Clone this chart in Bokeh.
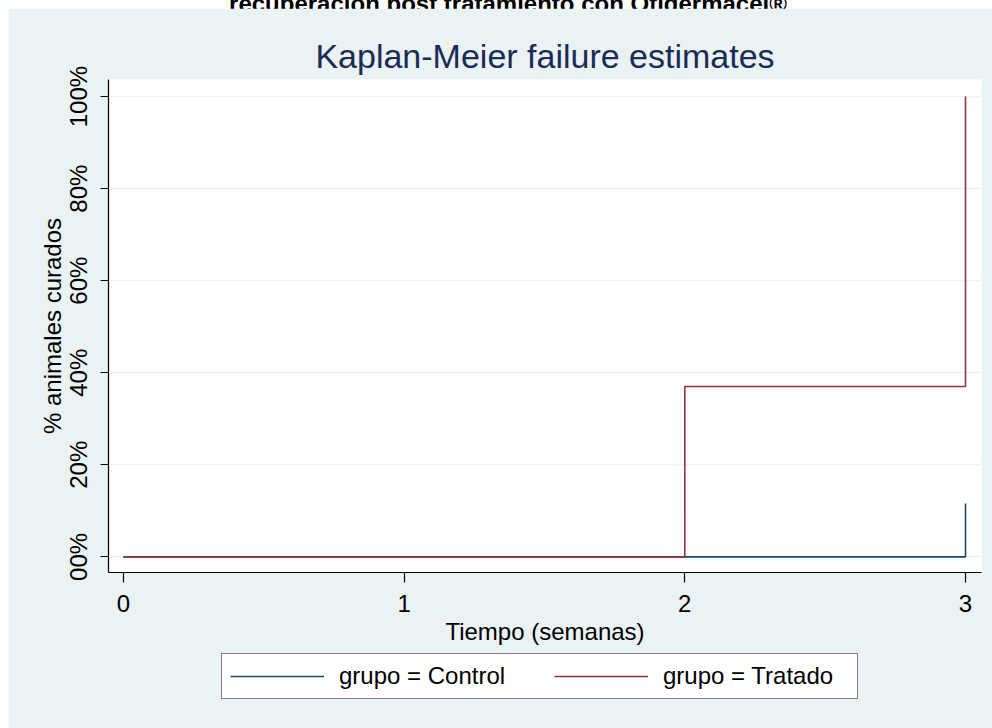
from bokeh.plotting import figure
from bokeh.models import FixedTicker, Legend, LegendItem, Div, Range1d
from bokeh.layouts import column
from bokeh.embed import file_html
from bokeh.resources import INLINE

# ---- data ----
heading = "recuperación post tratamiento con Otidermacel®"
chart_title = "Kaplan-Meier failure estimates"
x_title = "Tiempo (semanas)"
y_title = "% animales curados"
x_ticks = [0, 1, 2, 3]
y_ticks = [0, 20, 40, 60, 80, 100]
y_tick_labels = ["00%", "20%", "40%", "60%", "80%", "100%"]
groups = ["grupo = Control", "grupo = Tratado"]
control_time = [0, 3]
control_fail = [0, 11.6]
tratado_time = [0, 2, 3]
tratado_fail = [0, 37, 100]

FONT = "Liberation Sans"
BG = "#EAF2F3"
NAVY = "#1A476F"
MAROON = "#90353B"

p = figure(
    output_backend="svg", toolbar_location=None,
    frame_width=873, frame_height=493,
    min_border_left=100, min_border_right=11, min_border_top=71, min_border_bottom=76,
    x_range=Range1d(-0.053, 3.057), y_range=Range1d(-3.4, 103.7),
    background_fill_color="white", border_fill_color=BG,
    title=chart_title, margin=(0, 0, 0, 8),
)
p.outline_line_color = None

p.title.align = "center"
p.title.text_font = FONT
p.title.text_font_size = "34px"
p.title.text_font_style = "normal"
p.title.text_color = "#1c2b55"
p.title.standoff = 9

# grid
p.xgrid.visible = False
p.ygrid.grid_line_color = BG
p.ygrid.grid_line_width = 1.5
p.ygrid.ticker = FixedTicker(ticks=y_ticks)

# axes
for ax in (p.xaxis[0], p.yaxis[0]):
    ax.axis_line_color = "black"
    ax.axis_line_width = 1.2
    ax.major_tick_line_color = "black"
    ax.major_tick_line_width = 1.2
    ax.major_tick_in = 0
    ax.minor_tick_line_color = None
    ax.major_label_text_font = FONT
    ax.major_label_text_font_size = "24px"
    ax.major_label_text_color = "black"
    ax.axis_label_text_font = FONT
    ax.axis_label_text_font_size = "24px"
    ax.axis_label_text_font_style = "normal"
    ax.axis_label_text_color = "black"

p.xaxis.ticker = FixedTicker(ticks=x_ticks)
p.xaxis.major_tick_out = 10
p.xaxis.major_label_standoff = 12
p.xaxis.axis_label = x_title
p.xaxis.axis_label_standoff = 3

p.yaxis.ticker = FixedTicker(ticks=y_ticks)
p.yaxis.major_label_overrides = {t: l for t, l in zip(y_ticks, y_tick_labels)}
p.yaxis.major_label_orientation = "vertical"
p.yaxis.major_tick_out = 8
p.yaxis.major_label_standoff = 8
p.yaxis.axis_label = y_title
p.yaxis.axis_label_standoff = -3

# curves
p.step(control_time, control_fail, mode="after", line_color=NAVY, line_width=1.6)
p.step(tratado_time, tratado_fail, mode="after", line_color=MAROON, line_width=1.6)

# ---- legend strip (continues the graph region below the x axis) ----
p2 = figure(
    output_backend="svg", toolbar_location=None,
    width=984, height=84, min_border=0, margin=(-2, 0, 0, 8),
    x_axis_location=None, y_axis_location=None,
    x_range=Range1d(10, 11), y_range=Range1d(10, 11),
    background_fill_color=BG, border_fill_color=BG,
)
p2.outline_line_color = None
p2.grid.visible = False
k_c = p2.step(control_time, control_fail, mode="after", line_color=NAVY, line_width=1.6)
k_t = p2.step(tratado_time, tratado_fail, mode="after", line_color=MAROON, line_width=1.6)

legend = Legend(
    items=[LegendItem(label=groups[0], renderers=[k_c]),
           LegendItem(label=groups[1], renderers=[k_t])],
    orientation="horizontal", location=(113, 31),
    glyph_width=94, glyph_height=24, label_standoff=15, label_width=186,
    spacing=29, padding=8, margin=0,
    label_text_font=FONT, label_text_font_size="24px", label_text_color="black",
    border_line_color="black", border_line_width=1.5,
    background_fill_color="white", background_fill_alpha=1.0,
)
p2.add_layout(legend, "center")

head = Div(
    text=f'<div style="font-family:\'{FONT}\',Arial,sans-serif;font-weight:bold;font-size:24px;'
         f'line-height:24px;white-space:nowrap;text-align:center;width:992px;padding-left:24px;'
         f'box-sizing:border-box;margin-top:-15px;color:black;">{heading}</div>',
    width=992, height=8, margin=(0, 0, 0, 0),
)

page = column(head, p, p2, spacing=0)
open("out.html", "w").write(file_html(page, INLINE))
